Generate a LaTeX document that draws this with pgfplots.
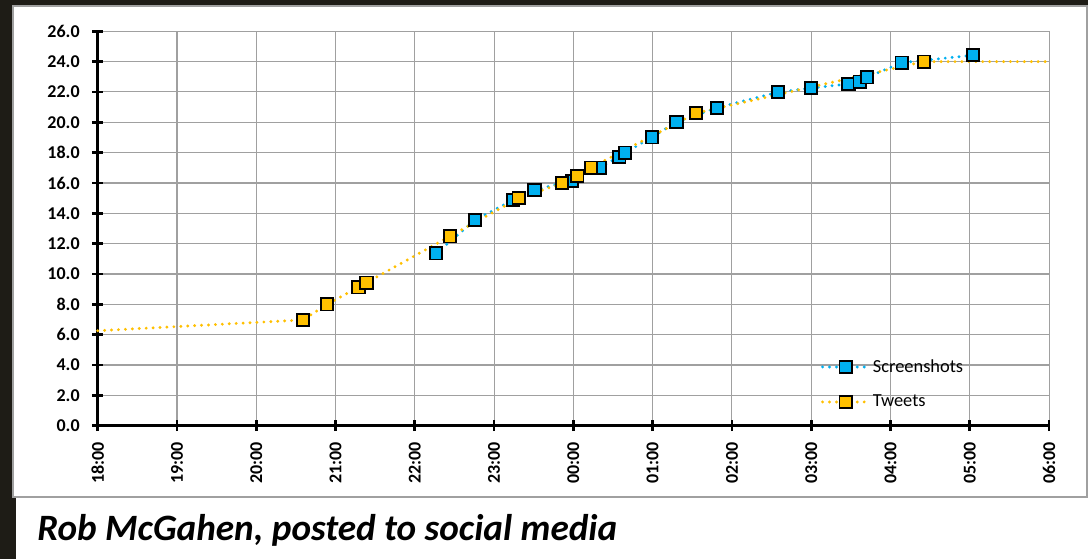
\documentclass[border=0pt]{standalone}
\usepackage{fontspec}
\setmainfont{Carlito}
\usepackage{pgfplots}
\pgfplotsset{compat=1.18}
\definecolor{sblue}{RGB}{0,176,240}
\definecolor{tyell}{RGB}{255,192,0}
\definecolor{gridg}{RGB}{160,160,160}
\definecolor{darkbg}{RGB}{30,28,22}
\begin{document}
\begin{tikzpicture}[x=0.75pt,y=0.75pt]
\useasboundingbox (0,0) rectangle (1088,559);
\fill[darkbg] (0,0) rectangle (1088,559);
\fill[white] (16,0) rectangle (1088,62);
\fill[white,draw=gridg,line width=0.8pt] (13,62) rectangle (1087,553);
\fill[white] (16,0) rectangle (1088,61.4);
\node[anchor=base west,inner sep=0pt,font=\bfseries\itshape\fontsize{27.9}{30}\selectfont] at (37,18) {Rob McGahen, posted to social media};
\begin{axis}[
  at={(73.28pt,99.98pt)}, anchor=south west,
  scale only axis, width=713.5pt, height=295.8pt,
  xmin=0, xmax=12, ymin=0, ymax=26,
  xtick={0,...,12},
  xticklabels={18:00,19:00,20:00,21:00,22:00,23:00,00:00,01:00,02:00,03:00,04:00,05:00,06:00},
  ytick={0,2,...,26},
  ticklabel style={font=\bfseries\fontsize{13.5}{15}\selectfont},
  xticklabel style={rotate=90,anchor=east,xshift=-5pt},
  yticklabel style={xshift=-6pt,/pgf/number format/.cd,fixed,fixed zerofill,precision=1,assume math mode=true},
  axis lines=left,
  axis line style={-,line width=2.2pt,black},
  major tick length=8pt,
  tick align=center,
  major tick style={black,line width=2pt},
  grid=major,
  major grid style={gridg,line width=0.8pt},
  clip=false,
  legend cell align=left,
  legend style={draw=none,fill=none,at={(0.76,0.175)},anchor=north west,
    font=\fontsize{13.8}{16}\selectfont,row sep=11.5pt,inner sep=0pt},
  legend image code/.code={\draw[mark repeat=2,mark phase=2] plot coordinates {(0pt,0pt)(17.25pt,0pt)(34.5pt,0pt)};},
  dotline/.style={line width=2.4pt,dash pattern=on 0pt off 5.2pt,line cap=round},
  sq/.style={mark=square*,mark size=4.6pt,mark options={solid,draw=black,line width=1.4pt,fill=#1}},
]
% Screenshots
\addplot[sblue,dotline,sq=sblue] coordinates {
(4.27,11.36)(4.76,13.56)(5.24,14.88)(5.51,15.54)(5.98,16.15)(6.33,17.01)
(6.58,17.73)(6.65,18.0)(6.99,19.01)(7.30,20.02)(7.81,20.96)(8.58,21.98)
(9.00,22.26)(9.47,22.53)(9.61,22.68)(9.70,22.96)(10.14,23.93)(11.04,24.42)};
\addlegendentry{Screenshots}
% Tweets line
\addplot[tyell,dotline,forget plot] coordinates {
(0,6.26)(2.59,6.97)(2.89,8.0)(3.29,9.12)(3.39,9.43)(4.44,12.48)(5.31,14.99)
(5.86,15.98)(6.05,16.46)(6.22,17.01)(7.55,20.61)(10.42,24.0)(12,24.0)};
% Tweets marks
\addplot[only marks,sq=tyell,forget plot] coordinates {
(2.59,6.97)(2.89,8.0)(3.29,9.12)(3.39,9.43)(4.44,12.48)(5.31,14.99)
(5.86,15.98)(6.05,16.46)(6.22,17.01)(7.55,20.61)(10.42,24.0)};
\addlegendimage{tyell,dotline,sq=tyell}
\addlegendentry{Tweets}
\end{axis}
\end{tikzpicture}
\end{document}
